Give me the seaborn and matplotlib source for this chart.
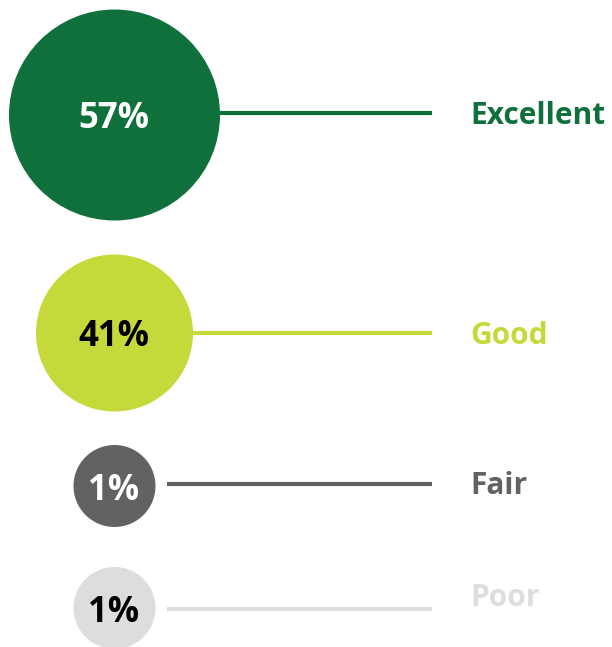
import seaborn as sns
import pandas as pd
import numpy as np
import matplotlib.pyplot as plt

# data
ratings = ["Excellent", "Good", "Fair", "Poor"]
shares = [57, 41, 1, 1]

# layout / style (pixel space)
colors = ["#10703c", "#c5d93b", "#616264", "#dcddde"]
text_colors = ["white", "black", "white", "black"]
row_y = [115, 333, 486, 608]
line_y = [113, 333, 484, 609]
label_y = [112, 333, 483, 595]
radius_px = [105.5, 78.5, 41, 41]
cx = 114.5

sns.set_theme(style="white")
plt.rcParams["font.family"] = ["Open Sans", "DejaVu Sans"]

fig = plt.figure(figsize=(6.12, 6.47), dpi=100)
ax = fig.add_axes([0, 0, 1, 1])
ax.set_xlim(0, 612)
ax.set_ylim(647, 0)

df = pd.DataFrame({"rating": ratings, "share": shares,
                   "x": [cx] * 4, "y": row_y})

# connector lines, behind the circles
for i, r in enumerate(ratings):
    ax.hlines(line_y[i], 167, 432, color=colors[i], lw=3.0, zorder=1)

# circles: marker area in pt^2, 1px = 0.72pt at dpi 100
sizes = {r: (2 * rad * 0.72) ** 2 for r, rad in zip(ratings, radius_px)}
sns.scatterplot(data=df, x="x", y="y", hue="rating", size="rating",
                palette=dict(zip(ratings, colors)), sizes=sizes,
                linewidth=0, legend=False, ax=ax, zorder=2)

for i, r in enumerate(ratings):
    ax.text(cx - 1, row_y[i], f"{shares[i]}%", color=text_colors[i],
            fontsize=25, fontweight="bold", ha="center",
            va="center_baseline", zorder=3)
    ax.text(470, label_y[i], r, color=colors[i], fontsize=21.5,
            fontweight="bold", ha="left", va="center_baseline")

ax.axis("off")
fig.savefig("out.png", dpi=100)
